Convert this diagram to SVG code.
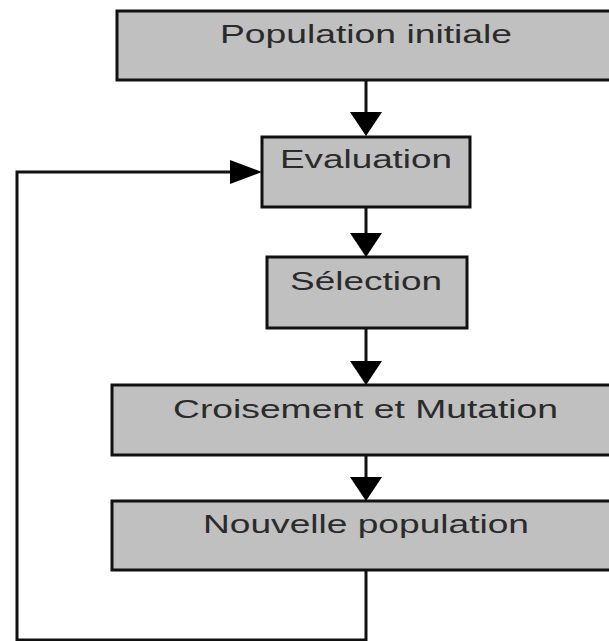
<svg xmlns="http://www.w3.org/2000/svg" width="609" height="641" viewBox="0 0 609 641">
  <style>
    .box { fill: #c0c0c0; stroke: #111; stroke-width: 3; }
    .label { font-family: "Liberation Sans", Arial, sans-serif; font-size: 25px; fill: #2b2b2b; }
    .wire { fill: none; stroke: #111; stroke-width: 3; }
    .head { fill: #000; }
  </style>

  <rect width="609" height="641" fill="#fff"/>

  <g id="population-initiale">
    <rect class="box" x="117" y="11" width="510" height="69"/>
    <text class="label" x="220" y="43" textLength="292" lengthAdjust="spacingAndGlyphs">Population initiale</text>
  </g>

  <g id="evaluation">
    <rect class="box" x="262" y="137" width="208" height="70"/>
    <text class="label" x="280" y="168" textLength="172" lengthAdjust="spacingAndGlyphs">Evaluation</text>
  </g>

  <g id="selection">
    <rect class="box" x="267" y="257" width="200" height="71"/>
    <text class="label" x="290" y="290" textLength="152" lengthAdjust="spacingAndGlyphs">Sélection</text>
  </g>

  <g id="croisement-mutation">
    <rect class="box" x="112" y="385" width="515" height="70"/>
    <text class="label" x="173" y="418" textLength="385" lengthAdjust="spacingAndGlyphs">Croisement et Mutation</text>
  </g>

  <g id="nouvelle-population">
    <rect class="box" x="112" y="501" width="515" height="69"/>
    <text class="label" x="203" y="533" textLength="326" lengthAdjust="spacingAndGlyphs">Nouvelle population</text>
  </g>

  <g id="connectors">
    <!-- straight flow down the centre -->
    <line class="wire" x1="366" y1="80" x2="366" y2="114"/>
    <polygon class="head" points="350,112 382,112 366,136"/>

    <line class="wire" x1="366" y1="207" x2="366" y2="235"/>
    <polygon class="head" points="350,233 382,233 366,257"/>

    <line class="wire" x1="366" y1="328" x2="366" y2="363"/>
    <polygon class="head" points="350,361 382,361 366,385"/>

    <line class="wire" x1="366" y1="455" x2="366" y2="479"/>
    <polygon class="head" points="350,477 382,477 366,501"/>

    <!-- loop back from the new population to evaluation -->
    <polyline class="wire" points="366,570 366,640 17,640 17,172 232,172"/>
    <polygon class="head" points="230,160 230,184 262,172"/>
  </g>
</svg>
